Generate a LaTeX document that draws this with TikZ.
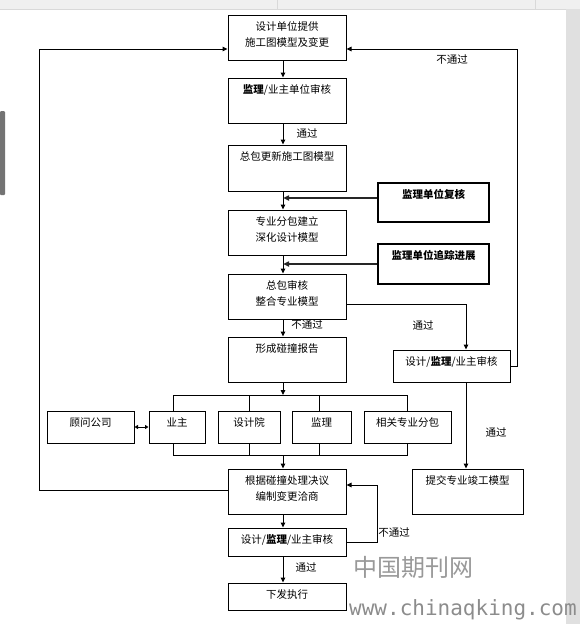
\documentclass[tikz,border=0pt]{standalone}
\usepackage{fontspec}
\newfontfamily\cjk{Noto Sans CJK SC}
\newfontfamily\wmmono{DejaVu Sans Mono}
\usetikzlibrary{arrows.meta,calc}
\tikzset{
 box/.style={draw, line width=1pt, inner sep=0pt},
 tbox/.style={draw, line width=2.6pt, inner sep=0pt},
 txt/.style={anchor=north, inner xsep=0pt, inner ysep=7pt, align=center, font=\cjk\fontsize{10.5pt}{16pt}\selectfont},
 lbl/.style={font=\cjk\fontsize{10.5pt}{12pt}\selectfont, inner sep=0pt},
 conn/.style={line width=1pt},
 arr/.style={conn, -{Triangle[length=5pt,width=4.5pt]}},
 tarr/.style={line width=2pt, -{Triangle[length=6pt,width=5pt]}},
 darr/.style={conn, {Triangle[length=3.5pt,width=4pt]}-{Triangle[length=3.5pt,width=4pt]}},
}
% \bx[style]{name}{x1}{y1}{x2}{y2}{text}
\newcommand\bx[7][box]{%
 \node[#1,minimum width={(#5-#3)*1pt},minimum height={(#6-#4)*1pt}] (#2) at ({(#3+#5)/2},{(#4+#6)/2}) {};
 \node[txt] (#2t) at (#2.north) {#7};}
\begin{document}
\begin{tikzpicture}[x=1pt,y=-1pt]
\useasboundingbox (0,0) rectangle (580,624);
% screen chrome
\fill[black!6] (0,0) rectangle (580,9);
\draw[black!15] (0,9) -- (580,9);
\draw[black!15] (277,0) -- (277,9) (535,0) -- (535,9);
\fill[black!12] (566,9) rectangle (580,624);
\fill[black!55,rounded corners=1pt] (0,111) rectangle (5,195);
% boxes
\bx{b1}{228}{15}{346}{60}{设计单位提供\\施工图模型及变更}
\bx{b2}{228}{78}{346}{123}{\textbf{监理}/业主单位审核}
\bx{b3}{228}{145}{346}{191}{总包更新施工图模型}
\bx{b4}{228}{210}{346}{255}{专业分包建立\\深化设计模型}
\bx{b5}{228}{274}{346}{319}{总包审核\\整合专业模型}
\bx{b6}{228}{337}{346}{382}{形成碰撞报告}
\bx[tbox]{rA}{378}{183}{489}{222}{\textbf{监理单位复核}}
\bx[tbox]{rB}{378}{244}{489}{284}{\textbf{监理单位追踪进展}}
\bx{rC}{393}{350}{510}{382}{设计/\textbf{监理}/业主审核}
\bx{g1}{47}{411}{134}{443}{顾问公司}
\bx{g2}{149}{411}{205}{443}{业主}
\bx{g3}{218}{411}{280}{443}{设计院}
\bx{g4}{292}{411}{351}{443}{监理}
\bx{g5}{364}{411}{451}{443}{相关专业分包}
\bx{b7}{228}{469}{346}{514}{根据碰撞处理决议\\编制变更洽商}
\bx{b8}{228}{528}{346}{556}{设计/\textbf{监理}/业主审核}
\bx{b9}{228}{583}{346}{610}{下发执行}
\bx{rD}{412}{469}{523}{514}{提交专业竣工模型}
% helper coordinates
\coordinate (ax) at (283,0);
\coordinate (bt) at (0,395);
\coordinate (bb) at (0,455);
% main vertical flow
\draw[arr] (b1.south -| ax) -- (b2.north -| ax);
\draw[arr] (b2.south -| ax) -- (b3.north -| ax);
\draw[arr] (b3.south -| ax) -- (b4.north -| ax);
\draw[arr] (b4.south -| ax) -- (b5.north -| ax);
\draw[arr] (b5.south -| ax) -- (b6.north -| ax);
\draw[arr] (b6.south -| ax) -- (bt -| ax);
\draw[arr] (bb -| ax) -- (b7.north -| ax);
\draw[arr] (b7.south -| ax) -- (b8.north -| ax);
\draw[arr] (b8.south -| ax) -- (b9.north -| ax);
% review boxes feeding in
\draw[tarr, draw=black!85] ([yshift=4.5pt]rA.west) -- ([yshift=4.5pt]rA.west -| ax);
\draw[tarr, draw=black!85] (rB.west) -- (rB.west -| ax);
% top bus and drops
\draw[conn] ([xshift=-4pt]g2.north) |- (bt -| g5.north) -- (g5.north);
\draw[conn] (g3.north) -- (g3.north |- bt);
\draw[conn] ([xshift=-2pt]g4.north) -- ([xshift=-2pt]g4.north |- bt);
% bottom bus
\draw[conn] ([xshift=-4pt]g2.south) |- (bb -| g5.south) -- (g5.south);
\draw[conn] (g3.south) -- (g3.south |- bb);
\draw[conn] ([xshift=-2pt]g4.south) -- ([xshift=-2pt]g4.south |- bb);
% consultant link
\draw[darr] (g1.east) -- (g2.west);
% pass branch
\draw[arr] ([yshift=-7.5pt]b5.east) -| ([xshift=14.5pt]rC.north);
\draw[arr] ([xshift=14.5pt]rC.south) -- ([xshift=14.5pt]rC.south |- rD.north);
% fail back to top (right)
\draw[arr] (rC.east) -- ++(7,0) |- ([yshift=-11.5pt]b1.east);
% feedback from change order (left)
\draw[arr] ([yshift=1.5pt]b7.west) -- ++(-188,0) |- ([yshift=-11.5pt]b1.west);
% fail loop bottom
\draw[arr] (b8.east) -- ++(31,0) |- ([yshift=6.5pt]b7.east);
% labels
\node[lbl] (l1) at (307,133) {通过};
\node[lbl] (l2) at (452,60) {不通过};
\node[lbl] (l3) at (307,325) {不通过};
\node[lbl] (l4) at (423,325) {通过};
\node[lbl] (l5) at (496,432) {通过};
\node[lbl] (l6) at (394,533) {不通过};
\node[lbl] (l7) at (306,567) {通过};
% watermark
\node[font=\cjk\fontsize{24pt}{26pt}\selectfont, text=black!40, inner sep=0pt] (wm1) at (413,567) {中国期刊网};
\node[font=\wmmono\fontsize{21pt}{23pt}\selectfont, text=black!45, inner sep=0pt, anchor=west] (wm2) at (349,610) {www.chinaqking.com};
\end{tikzpicture}
\end{document}
